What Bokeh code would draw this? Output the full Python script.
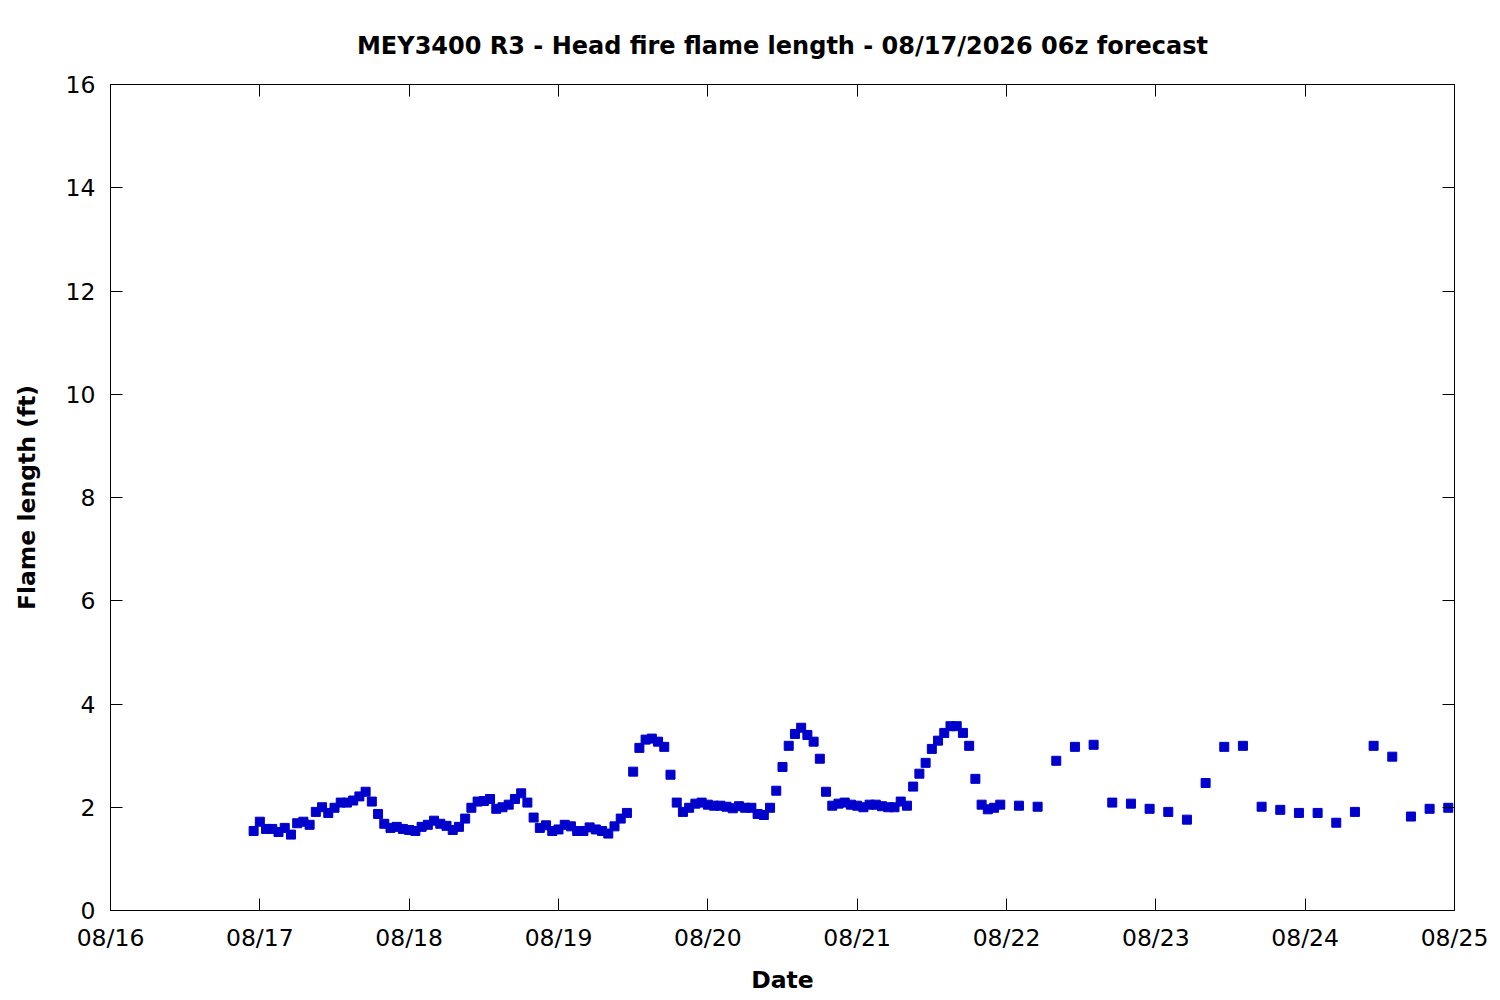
from datetime import datetime, timedelta

from bokeh.plotting import figure
from bokeh.models import (Range1d, FixedTicker, DatetimeTickFormatter, DatetimeAxis,
                          LinearAxis, ColumnDataSource)
from bokeh.embed import file_html
from bokeh.resources import INLINE

# ---------------- data ----------------
title_text = "MEY3400 R3 - Head fire flame length - 08/17/2026 06z forecast"
x_label = "Date"
y_label = "Flame length (ft)"

# first forecast valid time (local), 08/17/2026 06z run
forecast_start = datetime(2026, 8, 16, 23, 0)
# hourly out to 120 h, then 3-hourly to 192 h
forecast_hour = list(range(0, 121)) + list(range(123, 193, 3))

flame_length_ft = [
    1.54, 1.72, 1.58, 1.58, 1.52, 1.60, 1.47, 1.69, 1.72, 1.66,
    1.91, 2.00, 1.89, 1.99, 2.09, 2.09, 2.13, 2.21, 2.30, 2.11,
    1.87, 1.68, 1.60, 1.62, 1.58, 1.56, 1.54, 1.62, 1.66, 1.74,
    1.68, 1.64, 1.56, 1.62, 1.78, 1.99, 2.11, 2.12, 2.16, 1.97,
    2.00, 2.05, 2.16, 2.27, 2.09, 1.80, 1.60, 1.65, 1.54, 1.57,
    1.66, 1.63, 1.54, 1.54, 1.61, 1.57, 1.54, 1.49, 1.63, 1.78,
    1.89, 2.69, 3.15, 3.31, 3.33, 3.27, 3.17, 2.63, 2.09, 1.91,
    1.99, 2.07, 2.09, 2.05, 2.03, 2.03, 2.01, 1.98, 2.02, 1.99,
    1.99, 1.87, 1.85, 1.99, 2.32, 2.78, 3.19, 3.42, 3.54, 3.40,
    3.27, 2.94, 2.30, 2.03, 2.07, 2.09, 2.05, 2.03, 2.00, 2.05,
    2.05, 2.02, 2.00, 2.00, 2.11, 2.03, 2.40, 2.65, 2.86, 3.13,
    3.29, 3.44, 3.57, 3.57, 3.44, 3.19, 2.55, 2.05, 1.96, 1.99,
    2.05,
    2.03, 2.01, 2.90, 3.17, 3.21, 2.09, 2.07, 1.97, 1.91, 1.76,
    2.47, 3.17, 3.19, 2.01, 1.95, 1.89, 1.89, 1.70, 1.91, 3.19,
    2.98, 1.82, 1.97, 1.99,
]

x_start = datetime(2026, 8, 16)
x_end = datetime(2026, 8, 25)
tick_days = [datetime(2026, 8, 16) + timedelta(days=k) for k in range(10)]
y_ticks = [0, 2, 4, 6, 8, 10, 12, 14, 16]

valid_time = [forecast_start + timedelta(hours=h) for h in forecast_hour]
src = ColumnDataSource(dict(t=valid_time, v=flame_length_ft))

def to_ms(d):
    return (d - datetime(1970, 1, 1)).total_seconds() * 1000.0

tick_ms = [to_ms(d) for d in tick_days]

# ---------------- style ----------------
FONT = "DejaVu Sans"
TICK_SIZE = "23.5px"
LABEL_SIZE = "23.5px"
COLOR = "#0000CD"

p = figure(width=1500, height=1000, x_axis_type="datetime",
           x_range=Range1d(x_start, x_end), y_range=Range1d(0, 16),
           output_backend="svg", toolbar_location=None,
           min_border_left=110, min_border_right=46,
           min_border_top=84, min_border_bottom=90)

p.scatter("t", "v", source=src, marker="square", size=9,
          fill_color=COLOR, line_color=COLOR)

p.title.text = title_text
p.title.align = "center"
p.title.text_font = FONT
p.title.text_font_style = "bold"
p.title.text_font_size = "24px"
p.title.text_color = "black"
p.title.standoff = 50

p.xgrid.visible = False
p.ygrid.visible = False
p.outline_line_color = "black"
p.outline_line_alpha = 1.0
p.outline_line_width = 1
p.background_fill_color = "white"
p.border_fill_color = "white"

fmt = DatetimeTickFormatter(days="%m/%d", months="%m/%d", hours="%m/%d",
                            years="%m/%d", hourmin="%m/%d", minutes="%m/%d")

xa = p.xaxis[0]
xa.ticker = FixedTicker(ticks=tick_ms)
xa.formatter = fmt
ya = p.yaxis[0]
ya.ticker = FixedTicker(ticks=y_ticks)

for ax in (xa, ya):
    ax.major_tick_in = 12
    ax.major_tick_out = 0
    ax.minor_tick_line_color = None
    ax.axis_line_color = "black"
    ax.major_tick_line_color = "black"
    ax.major_label_text_font = FONT
    ax.major_label_text_font_size = TICK_SIZE
    ax.major_label_text_color = "black"
    ax.axis_label_text_font = FONT
    ax.axis_label_text_font_style = "bold"
    ax.axis_label_text_font_size = LABEL_SIZE
    ax.axis_label_text_color = "black"

xa.axis_label = x_label
xa.major_label_standoff = 13
xa.axis_label_standoff = 11
ya.axis_label = y_label
ya.major_label_standoff = 15
ya.axis_label_standoff = 22

# mirrored ticks on top and right
top = DatetimeAxis(ticker=FixedTicker(ticks=tick_ms), formatter=fmt)
right = LinearAxis(ticker=FixedTicker(ticks=y_ticks))
for ax in (top, right):
    ax.major_tick_in = 12
    ax.major_tick_out = 0
    ax.minor_tick_line_color = None
    ax.axis_line_color = "black"
    ax.major_tick_line_color = "black"
    ax.major_label_text_font_size = "0px"
    ax.major_label_text_alpha = 0
    ax.major_label_standoff = 0
p.add_layout(top, "above")
p.add_layout(right, "right")

open("out.html", "w").write(file_html(p, INLINE))
